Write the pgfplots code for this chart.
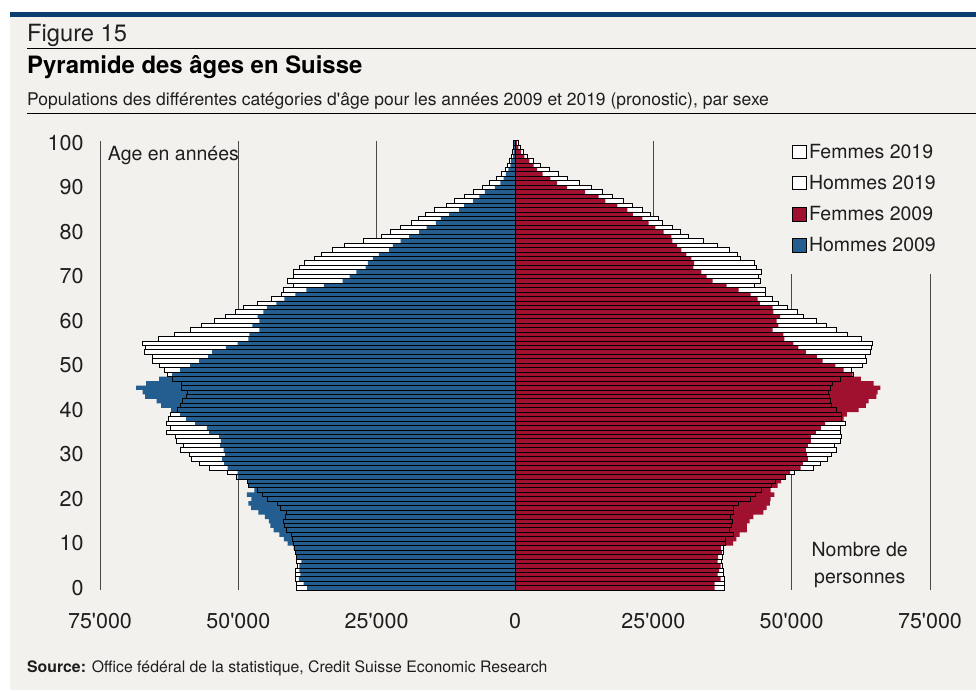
\documentclass[border=0pt]{standalone}
\usepackage{pgfplots}
\pgfplotsset{compat=1.18}
\usepackage{pgfplotstable}
\usepackage{fontspec}
\setmainfont{TeX Gyre Heros}[Ligatures=TeXOff]
\definecolor{bg}{HTML}{F3F1EE}
\definecolor{navy}{HTML}{0B3D6E}
\definecolor{hblue}{HTML}{245D8F}
\definecolor{fred}{HTML}{A0102F}
\definecolor{txt}{HTML}{1E1E1E}
\definecolor{gridc}{HTML}{4A4A4A}

\pgfplotstableread{
age m19 m09 f19 f09
0 39560 37570 37930 36060
1 39560 38200 37930 36060
2 39680 39080 37930 37150
3 39680 38780 37630 36600
4 39680 38960 37750 36900
5 39380 38960 37500 37150
6 39560 38600 37300 36600
7 39560 39380 37500 36700
8 39680 39680 37750 37400
9 39800 40000 37750 37200
10 39980 41100 38100 39400
11 40170 41750 38100 40000
12 40350 42600 39500 40600
13 41310 43600 38700 41900
14 41680 44200 39100 41900
15 41800 44500 39300 42400
16 41500 45200 39000 43100
17 41310 46400 39400 44900
18 42300 47700 39560 45480
19 42900 48200 40350 46050
20 44820 47660 42640 46210
21 45600 48440 43370 46870
22 46630 47110 44580 46210
23 48260 48080 46390 47470
24 48440 48320 47000 48080
25 50300 50130 48900 48800
26 51940 50130 50500 49710
27 55270 51940 53940 51640
28 57080 52550 55140 52010
29 58530 52910 56530 52910
30 58890 52370 57140 52730
31 60520 52670 58040 52550
32 59920 53270 57740 52910
33 61120 53150 58770 53450
34 61430 53450 58950 53450
35 62940 55270 58830 54360
36 62330 55690 58770 55270
37 62940 57800 59790 56030
38 62630 59430 59070 59370
39 62330 60520 59070 59980
40 60940 62150 58160 62100
41 60520 63960 57260 63420
42 60100 64750 56960 63900
43 59310 66860 56780 65290
44 59130 67290 56660 65530
45 60220 68490 57080 66020
46 60220 66680 57440 64810
47 61850 64330 58890 62520
48 62820 61970 61100 61000
49 63420 60520 60880 59370
50 64330 58710 62880 57920
51 65530 57080 63480 55600
52 65530 55450 63300 54540
53 66920 54720 64210 52550
54 66800 52250 64330 51220
55 67350 50130 64510 50310
56 64510 48200 62700 48680
57 61490 48020 60100 48500
58 58710 46210 58040 46570
59 56720 47470 56350 47600
60 54300 46210 54540 47290
61 52310 46510 52130 47900
62 50490 45480 51100 46690
63 49040 44820 49170 46570
64 46510 43130 47600 44270
65 44090 41680 46570 43850
66 42220 39680 45180 42580
67 41800 37690 45180 40410
68 39980 34550 43190 38230
69 41190 31170 44270 35700
70 39980 29900 43970 34610
71 39980 28690 44580 33700
72 38960 27000 43550 32250
73 38110 26580 43190 32370
74 36240 25670 40770 31890
75 34970 24580 40170 30990
76 32920 22770 38840 30080
77 30740 22050 36600 29290
78 27300 20660 34010 28450
79 24160 19150 31410 28270
80 22590 17330 29960 26880
81 20720 15950 28390 25370
82 18780 14310 26580 24160
83 17520 13410 25970 23010
84 16130 11900 24520 21320
85 14620 10090 23010 20290
86 12380 9180 21140 18480
87 10930 7550 19630 16310
88 9120 6460 17580 15100
89 7490 5440 15760 12680
90 5860 3620 13770 9420
91 4530 2660 11660 7610
92 3380 2050 9420 6400
93 2540 1630 7850 5010
94 1810 1210 6220 3990
95 1330 845 4590 3380
96 1030 725 3380 2600
97 725 360 2300 1690
98 420 240 1570 1090
99 300 150 970 600
100 300 150 600 360
}\pyr

\begin{document}
\begin{tikzpicture}[x=1pt,y=1pt]
\path[use as bounding box] (0,0) rectangle (976,690);
\fill[white] (0,0) rectangle (976,690);
\fill[bg] (10,0) rectangle (976,678);
\fill[navy] (10,673.3) rectangle (976,678);
\draw[black, line width=0.8pt] (27,641.7) -- (976,641.7);
\draw[black, line width=0.8pt] (27,576.7) -- (976,576.7);
\node[anchor=base west, inner sep=0, text=txt, font=\fontsize{23.7}{27}\selectfont] at (27,648) {Figure 15};
\node[anchor=base west, inner sep=0, text=black, font=\bfseries\fontsize{23.9}{28}\selectfont] at (27,616) {Pyramide des âges en Suisse};
\node[anchor=base west, inner sep=0, text=txt, font=\fontsize{17.5}{20}\selectfont] at (27,584) {Populations des différentes catégories d'âge pour les années 2009 et 2019 (pronostic), par sexe};
\node[anchor=base west, inner sep=0, text=txt, font=\fontsize{15.8}{18}\selectfont] at (27,17) {\textbf{Source:} Office fédéral de la statistique, Credit Suisse Economic Research};

\begin{axis}[
  at={(100pt,99.8pt)}, anchor=south west,
  scale only axis, width=830pt, height=449.4pt,
  xmin=-75000, xmax=75000, ymin=-0.5, ymax=100.5,
  scaled x ticks=false,
  axis line style={draw=none},
  tick style={draw=none},
  major tick length=0pt,
  xtick={-75000,-50000,-25000,0,25000,50000,75000},
  xticklabels={75'000,50'000,25'000,0,25'000,50'000,75'000},
  ytick={0,10,...,100},
  xmajorgrids, ymajorgrids=false,
  grid style={gridc, line width=1pt},
  ticklabel style={font=\fontsize{21.5}{25}\selectfont, text=txt},
  /pgf/number format/assume math mode=true,
  xticklabel style={yshift=-20pt},
  yticklabel style={xshift=-13pt},
  legend style={at={(0.8169,1.0391)}, anchor=north west, fill=bg, draw=none,
    font=\fontsize{19.5}{23}\selectfont, text=txt, row sep=11.4pt,
    inner xsep=14pt, inner ysep=19pt},
  legend cell align=left,
  legend image code/.code={\draw[#1] (0pt,-6.5pt) rectangle (14pt,7pt);},
]
\addlegendimage{fill=white, draw=black, line width=0.8pt}
\addlegendentry{Femmes 2019}
\addlegendimage{fill=white, draw=black, line width=0.8pt}
\addlegendentry{Hommes 2019}
\addlegendimage{fill=fred, draw=none}
\addlegendentry{Femmes 2009}
\addlegendimage{fill=hblue, draw=none}
\addlegendentry{Hommes 2009}

\addplot[forget plot, xbar, bar width=1, bar shift=0pt, fill=white, draw=none] table[x expr=-\thisrow{m19}, y=age]{\pyr};
\addplot[forget plot, xbar, bar width=1, bar shift=0pt, fill=white, draw=none] table[x=f19, y=age]{\pyr};
\addplot[forget plot, xbar, bar width=1, bar shift=0pt, fill=hblue, draw=none] table[x expr=-\thisrow{m09}, y=age]{\pyr};
\addplot[forget plot, xbar, bar width=1, bar shift=0pt, fill=fred, draw=none] table[x=f09, y=age]{\pyr};
\addplot[forget plot, xbar, bar width=1, bar shift=0pt, fill=none, draw=black, line width=0.9pt] table[x expr=-\thisrow{m19}, y=age]{\pyr};
\addplot[forget plot, xbar, bar width=1, bar shift=0pt, fill=none, draw=black, line width=0.9pt] table[x=f19, y=age]{\pyr};

\node[anchor=base west, inner sep=0, text=txt, font=\fontsize{19.5}{23}\selectfont] at (axis cs:-73600,96.0) {Age en années};
\node[anchor=base, inner sep=0, text=txt, font=\fontsize{19.5}{23}\selectfont] at (axis cs:62300,7.03) {Nombre de};
\node[anchor=base, inner sep=0, text=txt, font=\fontsize{19.5}{23}\selectfont] at (axis cs:62300,0.9) {personnes};
\end{axis}
\end{tikzpicture}
\end{document}
